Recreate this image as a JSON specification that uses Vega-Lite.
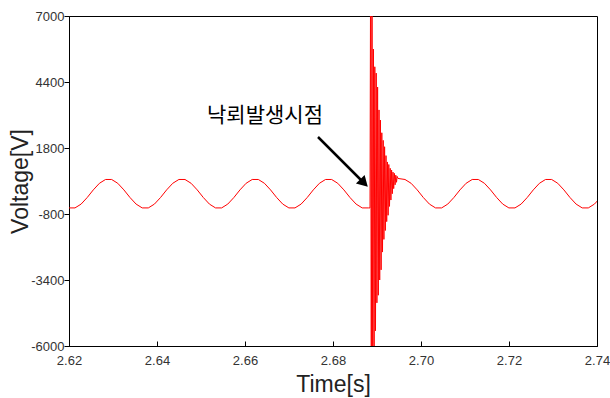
{
  "$schema": "https://vega.github.io/schema/vega-lite/v6.json",
  "width": 528,
  "height": 330,
  "autosize": {"type": "none"},
  "padding": {"left": 69, "top": 16, "right": 13, "bottom": 52},
  "background": "white",
  "config": {
    "view": {"stroke": "black", "strokeWidth": 1},
    "axis": {"grid": false, "domainColor": "black", "tickColor": "black", "labelFont": "Liberation Sans", "titleFont": "Liberation Sans", "labelColor": "#333333", "titleColor": "#222222", "titleFontWeight": "normal"}
  },
  "datasets": {
    "wave": [
      {"t": 2.619972, "v": -560}, {"t": 2.621361, "v": -560}, {"t": 2.62275, "v": -410}, {"t": 2.624139, "v": -150},
      {"t": 2.625528, "v": 150}, {"t": 2.626917, "v": 410}, {"t": 2.628306, "v": 560}, {"t": 2.629694, "v": 560},
      {"t": 2.631083, "v": 410}, {"t": 2.632472, "v": 150}, {"t": 2.633861, "v": -150}, {"t": 2.63525, "v": -410},
      {"t": 2.636639, "v": -560}, {"t": 2.638028, "v": -560}, {"t": 2.639417, "v": -410}, {"t": 2.640806, "v": -150},
      {"t": 2.642194, "v": 150}, {"t": 2.643583, "v": 410}, {"t": 2.644972, "v": 560}, {"t": 2.646361, "v": 560},
      {"t": 2.64775, "v": 410}, {"t": 2.649139, "v": 150}, {"t": 2.650528, "v": -150}, {"t": 2.651917, "v": -410},
      {"t": 2.653306, "v": -560}, {"t": 2.654694, "v": -560}, {"t": 2.656083, "v": -410}, {"t": 2.657472, "v": -150},
      {"t": 2.658861, "v": 150}, {"t": 2.66025, "v": 410}, {"t": 2.661639, "v": 560}, {"t": 2.663028, "v": 560},
      {"t": 2.664417, "v": 410}, {"t": 2.665806, "v": 150}, {"t": 2.667194, "v": -150}, {"t": 2.668583, "v": -410},
      {"t": 2.669972, "v": -560}, {"t": 2.671361, "v": -560}, {"t": 2.67275, "v": -410}, {"t": 2.674139, "v": -150},
      {"t": 2.675528, "v": 150}, {"t": 2.676917, "v": 410}, {"t": 2.678306, "v": 560}, {"t": 2.679694, "v": 560},
      {"t": 2.681083, "v": 410}, {"t": 2.682472, "v": 150}, {"t": 2.683861, "v": -150}, {"t": 2.68525, "v": -410},
      {"t": 2.686639, "v": -560}, {"t": 2.688028, "v": -560},
      {"t": 2.688409, "v": -560}, {"t": 2.688545, "v": 9000}, {"t": 2.688705, "v": -9000}, {"t": 2.688864, "v": 9000},
      {"t": 2.689023, "v": -9000}, {"t": 2.689182, "v": 5700}, {"t": 2.689341, "v": -6200}, {"t": 2.6895, "v": 5000},
      {"t": 2.689659, "v": -5400}, {"t": 2.689818, "v": 4750}, {"t": 2.689977, "v": -4300}, {"t": 2.690136, "v": 4200},
      {"t": 2.690295, "v": -4000}, {"t": 2.690455, "v": 3300}, {"t": 2.690614, "v": -3400}, {"t": 2.690773, "v": 2900},
      {"t": 2.690932, "v": -3000}, {"t": 2.691091, "v": 2400}, {"t": 2.69125, "v": -2300}, {"t": 2.691409, "v": 2100},
      {"t": 2.691568, "v": -1800}, {"t": 2.691727, "v": 1850}, {"t": 2.691886, "v": -1450}, {"t": 2.692045, "v": 1500},
      {"t": 2.692205, "v": -1100}, {"t": 2.692364, "v": 1250}, {"t": 2.692523, "v": -850}, {"t": 2.692682, "v": 1150},
      {"t": 2.692841, "v": -500}, {"t": 2.693, "v": 1000}, {"t": 2.693159, "v": -250}, {"t": 2.693318, "v": 930},
      {"t": 2.693477, "v": 0}, {"t": 2.693636, "v": 850}, {"t": 2.693795, "v": 200}, {"t": 2.693955, "v": 800},
      {"t": 2.694114, "v": 350}, {"t": 2.694273, "v": 730}, {"t": 2.694432, "v": 450}, {"t": 2.694591, "v": 680},
      {"t": 2.694773, "v": 600}, {"t": 2.696361, "v": 560},
      {"t": 2.69775, "v": 410}, {"t": 2.699139, "v": 150}, {"t": 2.700528, "v": -150}, {"t": 2.701917, "v": -410},
      {"t": 2.703306, "v": -560}, {"t": 2.704694, "v": -560}, {"t": 2.706083, "v": -410}, {"t": 2.707472, "v": -150},
      {"t": 2.708861, "v": 150}, {"t": 2.71025, "v": 410}, {"t": 2.711639, "v": 560}, {"t": 2.713028, "v": 560},
      {"t": 2.714417, "v": 410}, {"t": 2.715806, "v": 150}, {"t": 2.717194, "v": -150}, {"t": 2.718583, "v": -410},
      {"t": 2.719972, "v": -560}, {"t": 2.721361, "v": -560}, {"t": 2.72275, "v": -410}, {"t": 2.724139, "v": -150},
      {"t": 2.725528, "v": 150}, {"t": 2.726917, "v": 410}, {"t": 2.728306, "v": 560}, {"t": 2.729694, "v": 560},
      {"t": 2.731083, "v": 410}, {"t": 2.732472, "v": 150}, {"t": 2.733861, "v": -150}, {"t": 2.73525, "v": -410},
      {"t": 2.736639, "v": -560}, {"t": 2.738028, "v": -560}, {"t": 2.739417, "v": -410}, {"t": 2.740806, "v": -150}
    ],
    "label": [{"t": 2.664545, "v": 3041, "text": "낙뢰발생시점"}],
    "arrow": [{"t": 2.67659, "v": 2233, "t2": 2.68705, "v2": 421}],
    "head": [{"t": 2.68705, "v": 421}]
  },
  "layer": [
    {
      "data": {"name": "wave"},
      "mark": {"type": "line", "color": "#ff0000", "strokeWidth": 1, "clip": true},
      "encoding": {
        "x": {"field": "t", "type": "quantitative",
          "scale": {"domain": [2.62, 2.74], "nice": false, "zero": false},
          "axis": {"title": "Time[s]", "values": [2.62, 2.64, 2.66, 2.68, 2.7, 2.72, 2.74], "format": ".2f",
            "labelFlush": false, "labelFontSize": 13, "tickSize": -5, "labelPadding": 13,
            "titleFontSize": 23, "titleY": 45, "titleBaseline": "alphabetic"}},
        "y": {"field": "v", "type": "quantitative",
          "scale": {"domain": [-6000, 7000], "nice": false, "zero": false},
          "axis": {"title": "Voltage[V]", "values": [-6000, -4700, -3400, -2100, -800, 500, 1800, 3100, 4400, 5700, 7000],
            "labelExpr": "(datum.value + 6000) % 2600 == 0 ? '' + datum.value : ''",
            "labelFontSize": 13, "tickSize": 5, "labelPadding": 0,
            "titleFontSize": 23, "titleX": -42, "titleY": 165, "titleAngle": -90, "titleAlign": "center", "titleBaseline": "alphabetic"}}
      }
    },
    {
      "data": {"name": "arrow"},
      "mark": {"type": "rule", "color": "black", "strokeWidth": 2.5},
      "encoding": {
        "x": {"field": "t", "type": "quantitative"},
        "y": {"field": "v", "type": "quantitative"},
        "x2": {"field": "t2"},
        "y2": {"field": "v2"}
      }
    },
    {
      "data": {"name": "head"},
      "mark": {"type": "point", "shape": "triangle-up", "filled": true, "color": "black", "size": 150, "angle": 135, "opacity": 1},
      "encoding": {
        "x": {"field": "t", "type": "quantitative"},
        "y": {"field": "v", "type": "quantitative"}
      }
    },
    {
      "data": {"name": "label"},
      "mark": {"type": "text", "font": "Noto Sans CJK KR", "fontSize": 21, "color": "black", "align": "center", "baseline": "middle"},
      "encoding": {
        "x": {"field": "t", "type": "quantitative"},
        "y": {"field": "v", "type": "quantitative"},
        "text": {"field": "text"}
      }
    }
  ]
}
